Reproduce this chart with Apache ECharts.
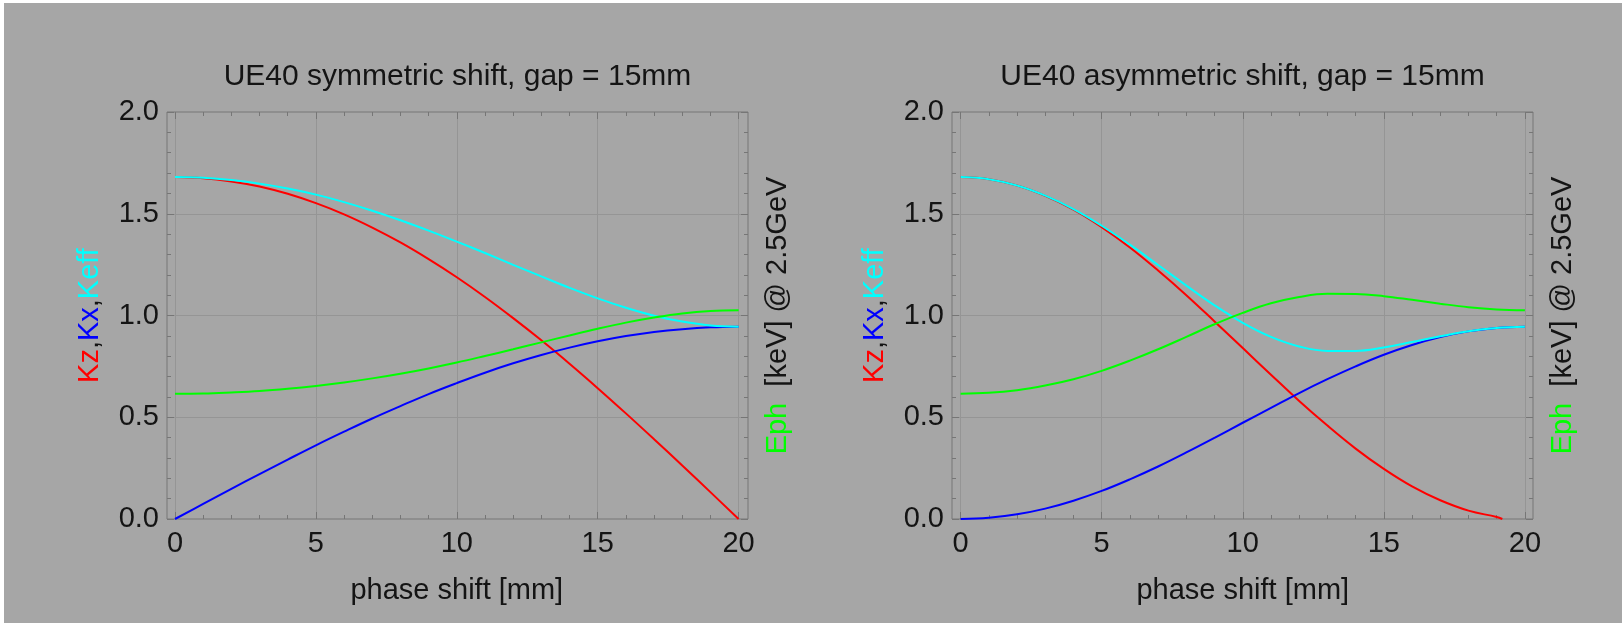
<!DOCTYPE html>
<html>

<head>
    <meta charset="UTF-8" />
    <title>UE40 phase shift</title>
    <script src="https://cdn.jsdelivr.net/npm/echarts@6.0.0/dist/echarts.min.js"></script>
    <style>
        body { margin: 0; background: #fff; overflow: hidden; }
        #chart { position: absolute; left: 0; top: 0; width: 1622px; height: 623px; background: #a6a6a6; }
        #edge { position: absolute; left: 0; top: 0; width: 1622px; height: 623px; box-sizing: border-box;
                border-top: 3px solid #fff; border-left: 4px solid #fff; pointer-events: none; }
    </style>
</head>

<body>
    <div id="chart"></div>
    <div id="edge"></div>

    <script type="text/javascript">
        // phase shift [mm]
        var shift = [0, 1, 2, 3, 4, 5, 6, 7, 8, 9, 10, 11, 12, 13, 14, 15, 16, 17, 18, 19, 20];

        // symmetric shift
        var symKz = [1.680, 1.675, 1.659, 1.634, 1.598, 1.552, 1.497, 1.432, 1.359, 1.277, 1.188,
            1.091, 0.987, 0.878, 0.763, 0.643, 0.519, 0.392, 0.263, 0.132, 0.000];
        var symKx = [0.000, 0.074, 0.148, 0.221, 0.292, 0.362, 0.429, 0.494, 0.555, 0.614, 0.668,
            0.719, 0.765, 0.806, 0.842, 0.873, 0.899, 0.919, 0.933, 0.942, 0.945];
        var symKeff = [1.680, 1.677, 1.666, 1.648, 1.624, 1.594, 1.557, 1.515, 1.468, 1.417, 1.363,
            1.307, 1.249, 1.192, 1.136, 1.084, 1.038, 0.999, 0.970, 0.951, 0.945];
        var symEph = [0.616, 0.617, 0.622, 0.629, 0.640, 0.654, 0.671, 0.691, 0.714, 0.740, 0.769,
            0.801, 0.834, 0.868, 0.902, 0.935, 0.965, 0.990, 1.010, 1.022, 1.026];

        // asymmetric shift (Kz reaches zero before 20mm)
        var asymShiftKz = [0, 1, 2, 3, 4, 5, 6, 7, 8, 9, 10, 11, 12, 13, 14, 15, 16, 17, 18, 19, 19.2];
        var asymKz = [1.680, 1.670, 1.639, 1.588, 1.520, 1.434, 1.334, 1.221, 1.100, 0.971, 0.840,
            0.709, 0.580, 0.459, 0.346, 0.246, 0.160, 0.092, 0.041, 0.010, 0.000];
        var asymKx = [0.000, 0.006, 0.023, 0.051, 0.090, 0.138, 0.195, 0.258, 0.327, 0.399, 0.473,
            0.546, 0.619, 0.687, 0.750, 0.807, 0.855, 0.894, 0.922, 0.939, 0.945];
        var asymKeff = [1.680, 1.670, 1.639, 1.589, 1.523, 1.441, 1.348, 1.248, 1.147, 1.050, 0.964,
            0.895, 0.848, 0.826, 0.826, 0.843, 0.870, 0.898, 0.923, 0.939, 0.945];
        var asymEph = [0.616, 0.620, 0.633, 0.656, 0.687, 0.728, 0.778, 0.834, 0.895, 0.957, 1.013,
            1.060, 1.091, 1.107, 1.106, 1.095, 1.077, 1.058, 1.041, 1.030, 1.026];

        var titles = ['UE40 symmetric shift, gap = 15mm', 'UE40 asymmetric shift, gap = 15mm'];
    </script>

    <script type="text/javascript">
        var chart = echarts.init(document.getElementById('chart'));

        var FONT = '"Liberation Sans", Arial, Helvetica, sans-serif';
        var TEXT = '#141414';
        var FRAME = '#767676';
        var GRIDLINE = '#959595';
        var FS = 29;

        var pairs = (xs, ys) => ys.map((y, i) => [xs[i], y]);

        var tickStyle = {
            axisLine: { show: false },
            axisTick: { show: true, inside: true, length: 7, lineStyle: { color: FRAME, width: 1 } },
            minorTick: { show: true, splitNumber: 5, length: 4, lineStyle: { color: FRAME, width: 1 } }
        };
        var labelStyle = { fontSize: FS, color: TEXT, fontFamily: FONT };

        // one panel = frame grid (y axes, border) + data grid (x axes, lines)
        var grids = [], xAxes = [], yAxes = [], series = [], titleList = [];

        function addPanel(p, frameLeft, dataLeft, dataWidth, lines) {
            var fg = grids.length;
            grids.push({ left: frameLeft, top: 112, width: 581, height: 407, show: true,
                borderColor: FRAME, borderWidth: 1, backgroundColor: 'transparent', outerBoundsMode: 'none' });
            grids.push({ left: dataLeft, top: 112, width: dataWidth, height: 407, outerBoundsMode: 'none' });
            var dg = fg + 1;

            titleList.push({
                text: titles[p], left: frameLeft + 290.5, top: 77, textAlign: 'center', textVerticalAlign: 'middle',
                padding: 0, textStyle: { fontSize: 30, fontWeight: 'normal', color: TEXT, fontFamily: FONT }
            });

            var xi = xAxes.length;
            xAxes.push(Object.assign({
                type: 'value', gridIndex: dg, position: 'bottom', min: 0, max: 20, interval: 5,
                name: 'phase shift [mm]', nameLocation: 'middle', nameGap: 57, nameMoveOverlap: false,
                nameTextStyle: labelStyle,
                axisLabel: Object.assign({ margin: 10 }, labelStyle),
                splitLine: { show: true, showMinLine: true, showMaxLine: true, lineStyle: { color: GRIDLINE, width: 1 } }
            }, tickStyle));
            xAxes.push(Object.assign({
                type: 'value', gridIndex: dg, position: 'top', min: 0, max: 20, interval: 5,
                axisLabel: { show: false }, splitLine: { show: false }
            }, tickStyle));
            xAxes.push({ type: 'value', gridIndex: fg, show: false, min: 0, max: 1 });

            var yi = yAxes.length;
            yAxes.push(Object.assign({
                type: 'value', gridIndex: fg, position: 'left', min: 0, max: 2, interval: 0.5,
                name: '{r|Kz},{b|Kx},{c|Keff}', nameLocation: 'middle', nameGap: 63, nameMoveOverlap: false,
                nameTextStyle: Object.assign({
                    rich: {
                        r: { color: '#ff0000', fontSize: FS, fontFamily: FONT },
                        b: { color: '#0000ff', fontSize: FS, fontFamily: FONT },
                        c: { color: '#00ffff', fontSize: FS, fontFamily: FONT }
                    }
                }, labelStyle),
                axisLabel: Object.assign({ margin: 8, formatter: v => v.toFixed(1) }, labelStyle),
                splitLine: { show: true, showMinLine: false, showMaxLine: false, lineStyle: { color: GRIDLINE, width: 1 } }
            }, tickStyle));
            yAxes.push(Object.assign({
                type: 'value', gridIndex: fg, position: 'right', min: 0, max: 2, interval: 0.5,
                name: '{g|Eph}  [keV] @ 2.5GeV', nameLocation: 'middle', nameGap: 15, nameMoveOverlap: false,
                nameTextStyle: Object.assign({
                    rich: { g: { color: '#00ff00', fontSize: FS, fontFamily: FONT } }
                }, labelStyle),
                axisLabel: { show: false }, splitLine: { show: false }
            }, tickStyle));
            yAxes.push({ type: 'value', gridIndex: dg, show: false, min: 0, max: 2 });

            lines.forEach(l => {
                series.push({
                    type: 'line', xAxisIndex: xi, yAxisIndex: yi + 2, data: l.data,
                    showSymbol: false, smooth: 0.4, silent: true,
                    lineStyle: { color: l.color, width: 2 }, itemStyle: { color: l.color }
                });
            });
        }

        addPanel(0, 167, 175, 563.6, [
            { data: pairs(shift, symKz), color: '#ff0000' },
            { data: pairs(shift, symKx), color: '#0000ff' },
            { data: pairs(shift, symKeff), color: '#00ffff' },
            { data: pairs(shift, symEph), color: '#00ff00' }
        ]);
        addPanel(1, 952, 960.6, 564.3, [
            { data: pairs(asymShiftKz, asymKz), color: '#ff0000' },
            { data: pairs(shift, asymKx), color: '#0000ff' },
            { data: pairs(shift, asymKeff), color: '#00ffff' },
            { data: pairs(shift, asymEph), color: '#00ff00' }
        ]);

        chart.setOption({
            animation: false,
            backgroundColor: '#a6a6a6',
            title: titleList,
            grid: grids,
            xAxis: xAxes,
            yAxis: yAxes,
            series: series
        });
    </script>
</body>

</html>
